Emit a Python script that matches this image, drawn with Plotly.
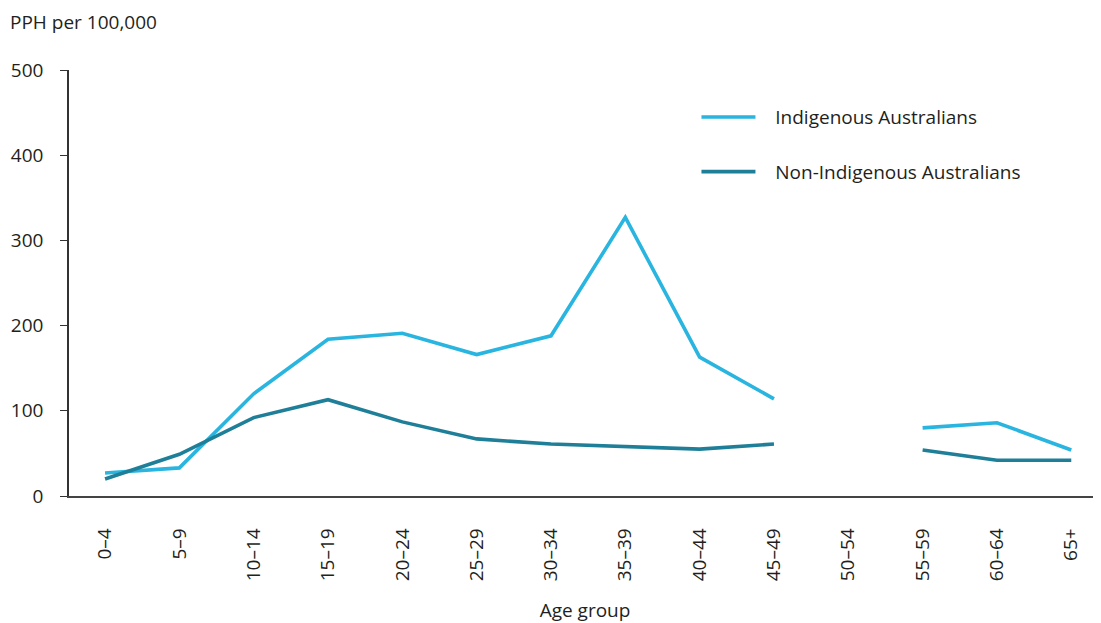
import plotly.graph_objects as go

age_groups = ["0–4", "5–9", "10–14", "15–19", "20–24", "25–29", "30–34",
              "35–39", "40–44", "45–49", "50–54", "55–59", "60–64", "65+"]
indigenous = [27, 33, 120, 184, 191, 166, 188, 327, 163, 114, None, 80, 86, 54]
non_indigenous = [20, 49, 92, 113, 87, 67, 61, 58, 55, 61, None, 54, 42, 42]
y_ticks = [0, 100, 200, 300, 400, 500]
series_names = ["Indigenous Australians", "Non-Indigenous Australians"]

FONT = "Open Sans"
TXT = "#231f20"
FS = 19
# the page body has an 8px margin, so the figure is drawn 8px smaller
W, H = 1093, 615
PAD = "\u00a0\u00a0\u00a0"

fig = go.Figure()
fig.add_trace(go.Scatter(x=age_groups, y=indigenous, mode="lines",
                         name=PAD + series_names[0], legendgroup="a",
                         line=dict(color="#29b5df", width=3.6)))
fig.add_trace(go.Scatter(x=age_groups, y=non_indigenous, mode="lines",
                         name=PAD + series_names[1], legendgroup="b",
                         line=dict(color="#1f7f98", width=3.6)))

fig.update_layout(
    width=W, height=H,
    margin=dict(l=61, r=0, t=62, b=127, autoexpand=False),
    paper_bgcolor="white", plot_bgcolor="white",
    font=dict(family=FONT, size=FS, color=TXT),
    title=dict(text="PPH per 100,000", x=2/W, y=1-14/H,
               xanchor="left", yanchor="middle", xref="container", yref="container",
               font=dict(family=FONT, size=FS, color=TXT)),
    showlegend=True,
    legend=dict(x=0.608, y=0.934, xanchor="left", yanchor="top",
                bgcolor="rgba(0,0,0,0)", tracegroupgap=27, itemwidth=54,
                font=dict(family=FONT, size=FS, color=TXT)),
    xaxis=dict(type="category", range=[-0.485, 13.4], showgrid=False,
               showline=True, linecolor="#444", linewidth=1.5,
               ticks="", tickangle=-90, ticklabelstandoff=23,
               title=dict(text="Age group", standoff=26,
                          font=dict(family=FONT, size=FS, color=TXT)),
               zeroline=False),
    yaxis=dict(range=[0, 500], tickvals=y_ticks, showgrid=False,
               showline=True, linecolor="#333", linewidth=1.5,
               ticks="outside", ticklen=7, tickcolor="#333", tickwidth=1.2,
               ticklabelstandoff=13, zeroline=False),
)

fig.write_html("out.html")
